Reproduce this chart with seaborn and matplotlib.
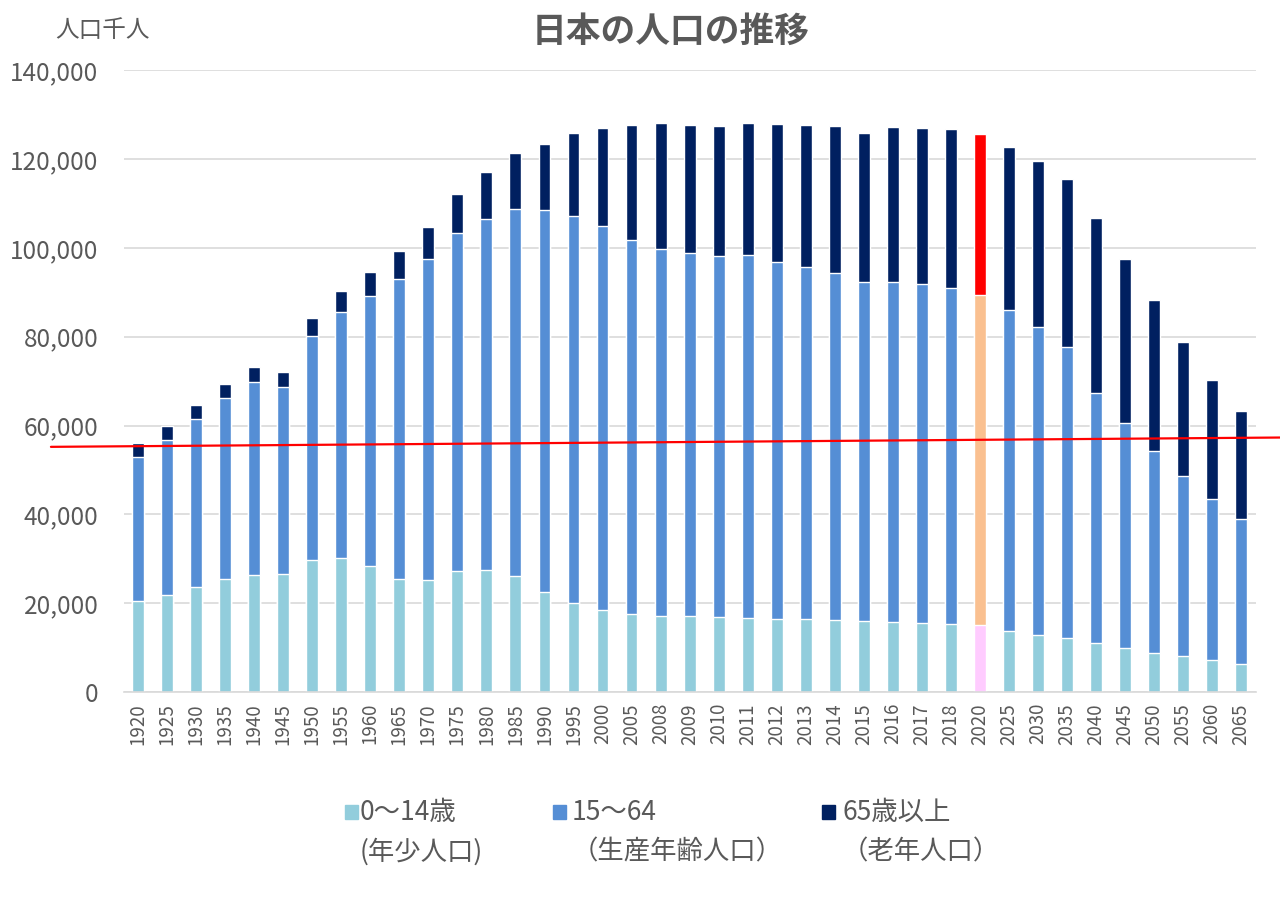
import numpy as np
import pandas as pd
import matplotlib
matplotlib.use("Agg")
import matplotlib.pyplot as plt
from matplotlib.patches import Rectangle
from matplotlib.ticker import FuncFormatter
import seaborn as sns

# data (thousands of people)
years = ["1920", "1925", "1930", "1935", "1940", "1945", "1950", "1955", "1960", "1965",
         "1970", "1975", "1980", "1985", "1990", "1995", "2000", "2005", "2008", "2009",
         "2010", "2011", "2012", "2013", "2014", "2015", "2016", "2017", "2018", "2020",
         "2025", "2030", "2035", "2040", "2045", "2050", "2055", "2060", "2065"]
young = [20400, 21900, 23600, 25500, 26400, 26500, 29800, 30100, 28400, 25500,
         25200, 27200, 27500, 26000, 22500, 20000, 18500, 17500, 17200, 17000,
         16800, 16700, 16500, 16400, 16200, 15900, 15800, 15600, 15400, 15100,
         13800, 12900, 12200, 11100, 9900, 8800, 8000, 7100, 6200]
working = [32600, 34800, 37800, 40700, 43300, 42100, 50300, 55400, 60700, 67600,
           72300, 76100, 79000, 82800, 86100, 87300, 86500, 84300, 82600, 81800,
           81400, 81700, 80400, 79200, 78200, 76500, 76600, 76300, 75600, 74300,
           72200, 69200, 65400, 56200, 50700, 45500, 40600, 36300, 32800]
elderly = [3100, 3200, 3200, 3200, 3500, 3500, 4200, 4800, 5400, 6300,
           7300, 8800, 10700, 12600, 14900, 18500, 22000, 25900, 28300, 29000,
           29300, 29700, 31000, 32100, 33100, 33600, 34900, 35100, 35800, 36200,
           36800, 37400, 37900, 39400, 37000, 33900, 30200, 26900, 24300]

highlight_year = "2020"
ref_line_x = [-3.0, 39.4]
ref_line_y = [55200, 57300]

legend_line1 = ["0〜14歳", "15〜64", "65歳以上"]
legend_line2 = ["(年少人口)", "（生産年齢人口）", "（老年人口）"]

c_young, c_work, c_old = "#92CDDC", "#558ED5", "#002060"
h_young, h_work, h_old = "#FFCCFF", "#FAC090", "#FF0000"
grey = "#595959"

df = pd.DataFrame({"year": years, "young": young, "working": working, "elderly": elderly})
df["mid"] = df["young"] + df["working"]
df["total"] = df["mid"] + df["elderly"]

def pal(base, hi):
    return [hi if y == highlight_year else base for y in years]

sns.set_style("white")
plt.rcParams["font.family"] = ["Noto Sans CJK JP", "DejaVu Sans"]

W, H = 1280, 914
fig = plt.figure(figsize=(12.8, 9.14), dpi=100)
ax = fig.add_axes([0.0965, 0.243, 0.8845, 0.68])

bw = 0.41
sns.barplot(data=df, x="year", y="total", hue="year", palette=pal(c_old, h_old),
            legend=False, width=bw, saturation=1, ax=ax)
sns.barplot(data=df, x="year", y="mid", hue="year", palette=pal(c_work, h_work),
            legend=False, width=bw, saturation=1, ax=ax)
sns.barplot(data=df, x="year", y="young", hue="year", palette=pal(c_young, h_young),
            legend=False, width=bw, saturation=1, ax=ax)

# red reference line
ax.plot(ref_line_x, ref_line_y, color="red", lw=1.6, clip_on=False, zorder=5)

ax.set_xlim(-0.5, 38.5)
ax.set_ylim(0, 140000)
ax.set_yticks(np.arange(0, 140001, 20000))
ax.yaxis.set_major_formatter(FuncFormatter(lambda v, p: f"{int(v):,}"))
ax.grid(axis="y", color="#D9D9D9", lw=1.2)
ax.set_axisbelow(True)
for s in ["top", "right", "left"]:
    ax.spines[s].set_visible(False)
ax.spines["bottom"].set_color("#D9D9D9")
ax.spines["bottom"].set_linewidth(1.2)
ax.tick_params(axis="both", length=0, colors=grey)
ax.tick_params(axis="y", labelsize=17.5, pad=18)
ax.tick_params(axis="x", labelsize=13.5, rotation=90, pad=8)
ax.set_xlabel("")
ax.set_ylabel("")

fig.text(0.524, 0.966, "日本の人口の推移", ha="center", va="center",
         fontsize=25, fontweight="bold", color=grey)
fig.text(0.043, 0.967, "人口千人", ha="left", va="center", fontsize=17, color=grey)

# legend drawn by hand so the swatch sits on the first text line
handle_x = [345, 553, 822]
text_x = [360, 572, 842]
for hx, tx, l1, l2, c in zip(handle_x, text_x, legend_line1, legend_line2,
                             [c_young, c_work, c_old]):
    fig.add_artist(Rectangle((hx / W, 1 - 819 / H), 13 / W, 14 / H,
                             transform=fig.transFigure, color=c))
    fig.text(tx / W, 1 - 812 / H, l1, ha="left", va="center", fontsize=19, color=grey)
    fig.text(tx / W, 1 - 852 / H, l2, ha="left", va="center", fontsize=19, color=grey)

fig.savefig("out.png", dpi=100)
